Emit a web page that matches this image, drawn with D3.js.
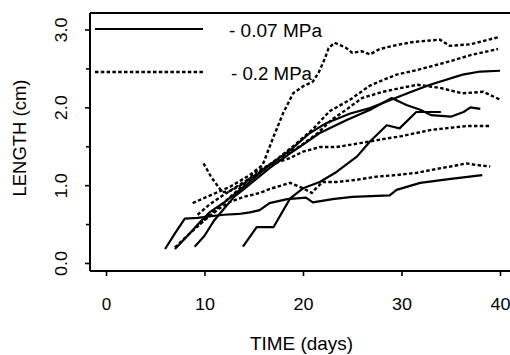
<!DOCTYPE html>
<html>
<head>
<meta charset="utf-8">
<script src="https://cdn.jsdelivr.net/npm/d3@7"></script>
<style>
  html, body { margin: 0; padding: 0; background: #fff; }
  svg { display: block; }
  text { font-family: "Liberation Sans", Arial, Helvetica, sans-serif; fill: #000; }
</style>
</head>
<body>
<script>
// ---- data (time in days, length in cm) ----
const xTicks = [0, 10, 20, 30, 40];
const yTicks = [0, 1, 2, 3];
const yMinorTicks = [0.5, 1.5, 2.5];
const legendLabels = ["- 0.07 MPa", "- 0.2 MPa"];

// -0.07 MPa (solid)
const solid1 = [[6,0.18],[7,0.38],[8,0.57],[9.3,0.58],[10.5,0.6],[12,0.62],[13.5,0.63],[14.6,0.65],[15.6,0.68],[16.6,0.77],[18.4,0.82],[20.3,0.84],[21,0.78],[23,0.82],[25,0.85],[28.8,0.87],[29.5,0.94],[31.9,1.03],[35,1.08],[38.2,1.13]];
const solid2 = [[9,0.21],[10,0.35],[11,0.55],[12,0.7],[13,0.85],[14,0.95],[16.6,1.22],[18.7,1.41],[20,1.52],[21.7,1.67],[24.5,1.84],[27,1.98],[29,2.12],[30.5,2.03],[31.9,1.97],[33,1.9],[35,1.88],[36.3,1.94],[37,2.0],[38,1.98]];
const solid3 = [[7,0.18],[8.5,0.38],[9.5,0.52],[10.5,0.65],[12,0.78],[13,0.88],[14,0.98],[16.6,1.26],[18.7,1.45],[20.7,1.67],[22.4,1.8],[24.8,1.92],[26.8,1.99],[29,2.1],[31,2.2],[32.9,2.29],[36.2,2.42],[38,2.46],[40,2.47]];
const solid4 = [[13.9,0.21],[15.3,0.46],[17,0.46],[18.7,0.83],[20,0.96],[21.7,1.04],[23.4,1.17],[25.5,1.37],[26.8,1.56],[28.5,1.77],[29.8,1.73],[31.5,1.94],[33,1.94],[34,1.94]];

// -0.2 MPa (dotted)
const dotted1 = [[8.8,0.77],[10.6,0.87],[12.6,0.98],[14.6,1.13],[15.9,1.26],[17,1.62],[18,1.93],[19,2.18],[20,2.27],[21,2.33],[21.6,2.45],[22.2,2.62],[22.6,2.76],[23.2,2.83],[24.3,2.77],[25,2.7],[26,2.72],[26.8,2.68],[27.8,2.75],[29.5,2.8],[31.2,2.84],[33.9,2.87],[34.9,2.79],[37,2.81],[39.8,2.9]];
const dotted2 = [[9.3,0.62],[10.5,0.75],[12,0.88],[13.5,1.0],[15,1.12],[17,1.3],[19,1.5],[21,1.72],[22.7,1.95],[24.8,2.1],[26.8,2.28],[28.1,2.35],[29.5,2.42],[31.6,2.48],[34.6,2.58],[37,2.67],[39.8,2.75]];
const dotted3 = [[9.9,1.28],[10.7,1.1],[11.4,0.98],[11.8,0.91],[12.5,0.92],[14,1.02],[16,1.2],[18,1.38],[19.7,1.5],[21.4,1.66],[23,1.85],[24.5,1.98],[26,2.12],[28.1,2.2],[30,2.25],[31.6,2.29],[33.9,2.25],[36.2,2.18],[38.3,2.2],[40,2.1]];
const dotted4 = [[9.5,0.5],[10.5,0.62],[12,0.78],[13.5,0.95],[15.3,1.18],[16.6,1.26],[18.7,1.35],[20,1.43],[21.7,1.49],[23.4,1.49],[25.8,1.54],[28.5,1.6],[30,1.63],[33,1.71],[36.6,1.76],[39,1.76]];
const dotted5 = [[7,0.2],[8.5,0.38],[10,0.55],[11.5,0.7],[12.5,0.78],[14,0.85],[15.6,0.9],[16.6,0.95],[18.7,1.03],[20,0.96],[20.9,0.9],[21.4,0.97],[22,1.04],[23.4,1.04],[25.5,1.07],[27.5,1.11],[29.5,1.13],[31.6,1.16],[33.2,1.2],[35,1.24],[36.6,1.28],[37.5,1.26],[39,1.24]];

const solidSeries = [solid1, solid2, solid3, solid4];
const dottedSeries = [dotted1, dotted2, dotted3, dotted4, dotted5];

// ---- drawing ----
const W = 510, H = 355;
const frame = {left: 90, top: 13, bottom: 271, right: 510};
const DASH = "3.5,2.3";

const svg = d3.select("body").append("svg").attr("width", W).attr("height", H);

const x = d3.scaleLinear().domain([0, 40]).range([106, 500]);
const y = d3.scaleLinear().domain([0, 3]).range([263, 29.5]);

// frame
const fr = svg.append("g").attr("stroke", "#000").attr("stroke-width", 2).attr("fill", "none");
fr.append("line").attr("x1", frame.left).attr("x2", frame.right).attr("y1", frame.top).attr("y2", frame.top);
fr.append("line").attr("x1", frame.left).attr("x2", frame.left).attr("y1", frame.top).attr("y2", frame.bottom);
fr.append("line").attr("x1", frame.left).attr("x2", frame.right).attr("y1", frame.bottom).attr("y2", frame.bottom);

// y axis
const yAxis = svg.append("g").attr("transform", `translate(${frame.left},0)`)
  .call(d3.axisLeft(y).tickValues(yTicks).tickFormat(d3.format(".1f")).tickSize(5).tickPadding(0));
yAxis.select(".domain").remove();
yAxis.selectAll(".tick line").attr("stroke-width", 1.6);
yAxis.selectAll(".tick text")
  .attr("x", 0).attr("dy", null)
  .attr("text-anchor", "middle")
  .attr("transform", "translate(-23,0) rotate(-90)")
  .attr("font-size", 17).attr("font-family", "Liberation Sans, Arial, sans-serif")
  .attr("textLength", 25).attr("lengthAdjust", "spacingAndGlyphs");
svg.append("g").attr("transform", `translate(${frame.left},0)`)
  .call(d3.axisLeft(y).tickValues(yMinorTicks).tickFormat("").tickSize(4))
  .call(g => g.select(".domain").remove())
  .selectAll(".tick line").attr("stroke-width", 1.6);

// x axis
const xAxis = svg.append("g").attr("transform", `translate(0,${frame.bottom})`)
  .call(d3.axisBottom(x).tickValues(xTicks).tickFormat(d3.format("d")).tickSize(5));
xAxis.select(".domain").remove();
xAxis.selectAll(".tick line").attr("stroke-width", 1.6);
xAxis.selectAll(".tick text")
  .attr("y", 39).attr("dy", null)
  .attr("font-size", 17).attr("font-family", "Liberation Sans, Arial, sans-serif")
  .each(function(d) { const s = String(d); if (s.length > 1) d3.select(this).attr("textLength", 20).attr("lengthAdjust", "spacingAndGlyphs"); });

// axis titles
svg.append("text").attr("x", 301.5).attr("y", 350).attr("text-anchor", "middle")
  .attr("font-size", 19).attr("textLength", 103).attr("lengthAdjust", "spacingAndGlyphs")
  .text("TIME (days)");
svg.append("text").attr("transform", "translate(26,138) rotate(-90)").attr("text-anchor", "middle")
  .attr("font-size", 18.5).attr("textLength", 117).attr("lengthAdjust", "spacingAndGlyphs")
  .text("LENGTH (cm)");

// lines
const line = d3.line().x(d => x(d[0])).y(d => y(d[1]));
const lines = svg.append("g").attr("fill", "none").attr("stroke", "#000")
  .attr("stroke-linejoin", "round");
lines.selectAll("path.solid").data(solidSeries).join("path")
  .attr("class", "solid").attr("d", line).attr("stroke-width", 2.2);
lines.selectAll("path.dotted").data(dottedSeries).join("path")
  .attr("class", "dotted").attr("d", line).attr("stroke-width", 2.4).attr("stroke-dasharray", DASH);

// legend
const legend = svg.append("g");
const legendRows = [{y: 29, dash: null, tx: 229, len: 93, label: legendLabels[0]},
                    {y: 72, dash: DASH, tx: 231, len: 81, label: legendLabels[1]}];
legendRows.forEach(r => {
  legend.append("line").attr("x1", 95).attr("x2", 203).attr("y1", r.y).attr("y2", r.y)
    .attr("stroke", "#000").attr("stroke-width", r.dash ? 2.4 : 2.2)
    .attr("stroke-dasharray", r.dash);
  legend.append("text").attr("x", r.tx).attr("y", r.y + 8)
    .attr("font-size", 18).attr("textLength", r.len).attr("lengthAdjust", "spacingAndGlyphs")
    .text(r.label);
});
</script>
</body>
</html>
